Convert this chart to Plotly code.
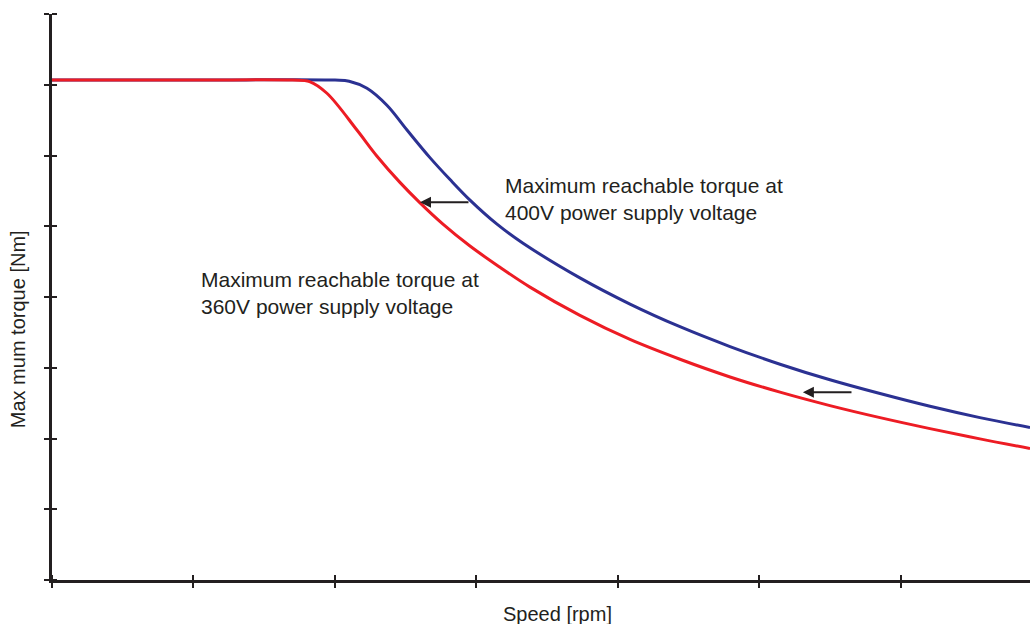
import plotly.graph_objects as go

# Data (speed in tick units, torque in tick units)
speed_400 = [0.0, 1.0, 2.0, 2.10, 2.226, 2.367, 2.509, 2.671, 2.813, 2.954, 3.145, 3.329,
             3.731, 4.085, 4.438, 4.792, 5.145, 5.498, 5.852, 6.205, 6.558, 6.912]
torque_400 = [7.066, 7.066, 7.066, 7.05, 6.95, 6.71, 6.36, 5.97, 5.66, 5.37, 5.03, 4.76,
              4.27, 3.90, 3.58, 3.30, 3.05, 2.83, 2.635, 2.455, 2.295, 2.155]

speed_360 = [0.0, 1.0, 1.70, 1.82, 1.943, 2.155, 2.297, 2.459, 2.601, 2.763, 2.954, 3.166,
             3.378, 3.731, 4.085, 4.438, 4.792, 5.145, 5.498, 5.852, 6.205, 6.558, 6.912]
torque_360 = [7.066, 7.066, 7.066, 7.045, 6.88, 6.36, 5.99, 5.62, 5.33, 5.03, 4.72, 4.42,
              4.14, 3.74, 3.40, 3.12, 2.87, 2.655, 2.465, 2.295, 2.14, 1.995, 1.86]

x_ticks = [0, 1, 2, 3, 4, 5, 6]
y_ticks = [0, 1, 2, 3, 4, 5, 6, 7, 8]

label_400 = "Maximum reachable torque at<br>400V power supply voltage"
label_360 = "Maximum reachable torque at<br>360V power supply voltage"
x_title = "Speed [rpm]"
y_title = "Max mum torque [Nm]"

AX = "#231f20"
FONT = "Liberation Sans, Arial, sans-serif"

fig = go.Figure()
fig.add_trace(go.Scatter(x=speed_400, y=torque_400, mode="lines",
                         line=dict(color="#2b3192", width=3, shape="spline", smoothing=1.0),
                         hoverinfo="skip"))
fig.add_trace(go.Scatter(x=speed_360, y=torque_360, mode="lines",
                         line=dict(color="#ed1c24", width=3, shape="spline", smoothing=1.0),
                         hoverinfo="skip"))

xr = [0, 6.912]
yr = [0, 8]
EPS = 1e-7
common = dict(showgrid=False, zeroline=False, showticklabels=False, showline=True,
              linecolor=AX, linewidth=2.5, ticks="outside",
              tickcolor=AX, tickwidth=2, ticklen=5)
fig.update_layout(
    width=1030, height=624,
    margin=dict(l=52, r=0, t=14, b=44),
    paper_bgcolor="white", plot_bgcolor="white",
    showlegend=False,
    font=dict(family=FONT, color=AX),
    xaxis=dict(range=xr, tickmode="array", tickvals=x_ticks,
               minor=dict(tickmode="array", tickvals=[v + EPS for v in x_ticks],
                          ticks="inside", ticklen=5, tickwidth=2, tickcolor=AX, showgrid=False),
               **common),
    yaxis=dict(range=yr, tickmode="array", tickvals=y_ticks,
               minor=dict(tickmode="array", tickvals=[v + EPS for v in y_ticks],
                          ticks="inside", ticklen=5, tickwidth=2, tickcolor=AX, showgrid=False),
               **common),
)

# arrows
fig.add_annotation(x=2.601, y=5.34, ax=2.954, ay=5.34, xref="x", yref="y",
                   axref="x", ayref="y", showarrow=True, arrowhead=2,
                   arrowsize=1.1, arrowwidth=2, arrowcolor=AX, text="")
fig.add_annotation(x=5.307, y=2.653, ax=5.661, ay=2.653, xref="x", yref="y",
                   axref="x", ayref="y", showarrow=True, arrowhead=2,
                   arrowsize=1.1, arrowwidth=2, arrowcolor=AX, text="")

# labels
fig.add_annotation(x=3.19, y=5.38, xref="x", yref="y", text=label_400,
                   showarrow=False, xanchor="left", yanchor="middle", align="left",
                   font=dict(size=21, family=FONT, color=AX))
fig.add_annotation(x=1.04, y=4.06, xref="x", yref="y", text=label_360,
                   showarrow=False, xanchor="left", yanchor="middle", align="left",
                   font=dict(size=21, family=FONT, color=AX))

# axis titles
fig.add_annotation(x=(557 - 52) / 978, y=-(614 - 579.6) / 565.6, xref="paper", yref="paper",
                   text=x_title, showarrow=False, xanchor="center", yanchor="middle",
                   font=dict(size=20, family=FONT, color=AX))
fig.add_annotation(x=-(52 - 18) / 978, y=(579.6 - 329) / 565.6, xref="paper", yref="paper",
                   text=y_title, showarrow=False, textangle=-90, xanchor="center", yanchor="middle",
                   font=dict(size=20, family=FONT, color=AX))

fig.write_html("out.html", config={"displayModeBar": False},
               post_script="document.body.style.margin='0';document.body.style.padding='0';")
